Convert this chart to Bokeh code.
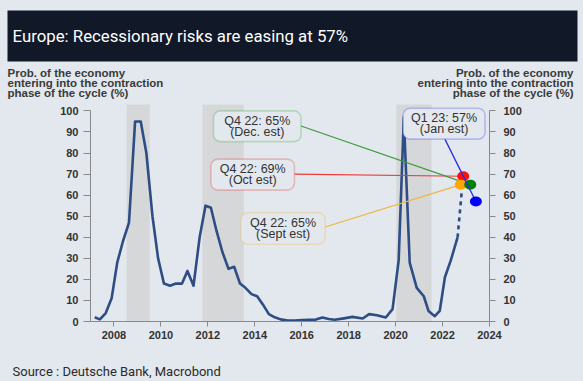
from bokeh.plotting import figure
from bokeh.models import (Range1d, LinearAxis, FixedTicker, BoxAnnotation, Label,
                          GlobalInlineStyleSheet)
from bokeh.core.properties import value
from bokeh.layouts import column
from bokeh.embed import file_html
from bokeh.resources import INLINE

# ---------------- data ----------------
title_text = "Europe: Recessionary risks are easing at 57%"
source_text = "Source : Deutsche Bank, Macrobond"
axis_title = ["Prob. of the economy", "entering into the contraction", "phase of the cycle (%)"]

years = [2007.18, 2007.4, 2007.65, 2007.9, 2008.14, 2008.38, 2008.64, 2008.9, 2009.14, 2009.38,
         2009.64, 2009.88, 2010.13, 2010.39, 2010.64, 2010.9, 2011.13, 2011.39, 2011.65, 2011.9,
         2012.13, 2012.37, 2012.62, 2012.88, 2013.12, 2013.37, 2013.6, 2013.86, 2014.1, 2014.35,
         2014.6, 2014.85, 2015.1, 2015.4, 2015.7, 2016.0, 2016.3, 2016.6, 2016.88, 2017.15,
         2017.4, 2017.8, 2018.16, 2018.6, 2018.87, 2019.2, 2019.58, 2019.87, 2020.13, 2020.35,
         2020.6, 2020.9, 2021.2, 2021.4, 2021.67, 2021.88, 2022.1, 2022.35, 2022.64]
prob = [2, 1, 4, 11, 28, 38, 47, 95, 95, 80,
        50, 30, 18, 17, 18, 18, 24, 17, 40, 55,
        54, 43, 33, 25, 26, 18, 16, 13, 12, 8,
        3.5, 2, 1, 0.5, 0.5, 0.7, 0.8, 0.9, 1.9, 1.2,
        0.8, 1.5, 2.2, 1.4, 3.5, 3, 1.9, 5.9, 29, 97,
        28, 16, 12, 5, 2.5, 5, 21, 29, 40]

# projected (dashed) segment
proj_x = [2022.64, 2022.82]
proj_y = [40, 62]

# recessions
rec_start = [2008.54, 2011.77, 2020.03]
rec_end = [2009.52, 2013.53, 2021.53]
rec_top = 103

# estimates: Sept, Oct, Dec (Q4 22) and Jan (Q1 23)
est_names = ["Q4 22: 65%", "Q4 22: 69%", "Q4 22: 65%", "Q1 23: 57%"]
est_sub = ["(Sept est)", "(Oct est)", "(Dec. est)", "(Jan est)"]
est_x = [2022.78, 2022.88, 2023.18, 2023.42]
est_y = [65, 69, 65, 57]
est_colors = ["#ffa500", "#ff1010", "#008000", "#0000ff"]
box_line_colors = ["#f2bb4a", "#e8454a", "#4ea84e", "#4a4ae6"]
conn_colors = ["#f0b63a", "#ee3a3a", "#3e9a3e", "#2a2ae8"]

x_ticks = [2008, 2010, 2012, 2014, 2016, 2018, 2020, 2022, 2024]
y_ticks = [0, 10, 20, 30, 40, 50, 60, 70, 80, 90, 100]

# ---------------- style ----------------
BG = "#e2e8ed"
DARK = "#111827"
LINE = "#2d4d84"
TXT = "#333333"
FONT = "Liberation Sans"
W = 583


def bare_fig(h):
    f = figure(width=W, height=h, x_range=Range1d(0, W), y_range=Range1d(0, h),
               toolbar_location=None, output_backend="svg", x_axis_type=None, y_axis_type=None,
               min_border_left=0, min_border_right=0, min_border_top=0, min_border_bottom=0,
               background_fill_color=BG, border_fill_color=BG, outline_line_color=None)
    f.grid.visible = False
    f.frame_align = False
    return f


# ---------------- header ----------------
HH = 102
hf = bare_fig(HH)
hf.quad(left=7, right=577, top=92, bottom=41, fill_color=DARK, line_color=None)
hf.text(x=[12], y=[67], text=[title_text], text_color="white", text_font=value("Roboto"),
        text_font_size="16.8px", text_baseline="middle", text_align="left")
rows_y = [29.5, 19.3, 9.2]
hf.text(x=[7] * 3, y=rows_y, text=axis_title, text_align="left", text_baseline="middle",
        text_font=value(FONT), text_font_size="11.5px", text_font_style="bold",
        text_color="#3a3a3a")
hf.text(x=[573] * 3, y=rows_y, text=axis_title, text_align="right", text_baseline="middle",
        text_font=value(FONT), text_font_size="11.5px", text_font_style="bold",
        text_color="#3a3a3a")

# ---------------- chart ----------------
p = figure(width=W, height=249, x_range=Range1d(2007, 2024), y_range=Range1d(0, 104),
           toolbar_location=None, output_backend="svg",
           min_border_left=90, min_border_right=94, min_border_top=0, min_border_bottom=30,
           background_fill_color=BG, border_fill_color=BG, outline_line_color=None)
p.grid.visible = False
p.frame_align = False

p.quad(left=rec_start, right=rec_end, bottom=0, top=rec_top, fill_color="#d5d7d9",
       line_color=None)
p.line(years, prob, line_color=LINE, line_width=2.6, line_join="round")
p.line(proj_x, proj_y, line_color=LINE, line_width=2.6, line_dash="4 4")

# annotation boxes (left, right, bottom, top), order Sept, Oct, Dec, Jan
box_l = [2013.41, 2012.13, 2012.24, 2020.32]
box_r = [2017.0, 2015.69, 2015.97, 2023.81]
box_b = [36.7, 62.4, 85.4, 86.6]
box_t = [51.7, 77.1, 100.0, 101.3]
conn_x0 = [2017.0, 2015.69, 2015.97, 2022.1]
conn_y0 = [44.9, 70.0, 92.8, 86.6]

for i in range(3):
    p.segment(x0=[conn_x0[i]], y0=[conn_y0[i]], x1=[est_x[i]], y1=[est_y[i]],
              line_color=conn_colors[i], line_width=1.1)
for i in [1, 0, 2]:
    p.ellipse(x=[est_x[i]], y=[est_y[i]], width=12, height=10, width_units="screen",
              height_units="screen", fill_color=est_colors[i], line_color=None)
p.segment(x0=[conn_x0[3]], y0=[conn_y0[3]], x1=[est_x[3]], y1=[est_y[3]],
          line_color=conn_colors[3], line_width=1.3)
p.ellipse(x=[est_x[3]], y=[est_y[3]], width=12, height=10, width_units="screen",
          height_units="screen", fill_color=est_colors[3], line_color=None)

for i in range(4):
    p.add_layout(BoxAnnotation(left=box_l[i], right=box_r[i], bottom=box_b[i], top=box_t[i],
                               fill_color=BG, fill_alpha=1, line_color=box_line_colors[i],
                               line_width=1.6, border_radius=7))
for i in range(4):
    cx = (box_l[i] + box_r[i]) / 2
    cy = (box_b[i] + box_t[i]) / 2
    p.add_layout(Label(x=cx, y=cy + 2.75, text=est_names[i], text_align="center",
                       text_baseline="middle", text_font=FONT, text_font_size="12.5px",
                       text_color=TXT))
    p.add_layout(Label(x=cx, y=cy - 2.75, text=est_sub[i], text_align="center",
                       text_baseline="middle", text_font=FONT, text_font_size="12.5px",
                       text_color=TXT))


def style_axis(ax, tick_out, standoff):
    ax.axis_line_color = "#8a8a8a"
    ax.major_tick_line_color = "#8a8a8a"
    ax.minor_tick_line_color = None
    ax.major_tick_in = 0
    ax.major_tick_out = tick_out
    ax.major_label_text_font = FONT
    ax.major_label_text_font_size = "11px"
    ax.major_label_text_font_style = "bold"
    ax.major_label_text_color = TXT
    ax.major_label_standoff = standoff


p.add_layout(LinearAxis(), "right")
for ax in p.xaxis:
    ax.ticker = FixedTicker(ticks=x_ticks)
    ax.bounds = (2007, 2024)
    style_axis(ax, 5, 4)
p.yaxis[0].ticker = FixedTicker(ticks=y_ticks)
p.yaxis[0].bounds = (0, 100)
style_axis(p.yaxis[0], 7, 5)
p.yaxis[1].ticker = FixedTicker(ticks=y_ticks)
p.yaxis[1].bounds = (0, 100)
style_axis(p.yaxis[1], 6, 8)

# ---------------- footer ----------------
FH = 30
ff = bare_fig(FH)
ff.text(x=[12], y=[10], text=[source_text], text_align="left", text_baseline="middle",
        text_font=value("Roboto"), text_font_size="13px", text_color="#2a2a2a")

layout = column(hf, p, ff, spacing=0, stylesheets=[
    GlobalInlineStyleSheet(css="body{background-color:#e2e8ed;overflow:hidden;}")])

open("out.html", "w").write(file_html(layout, INLINE))
